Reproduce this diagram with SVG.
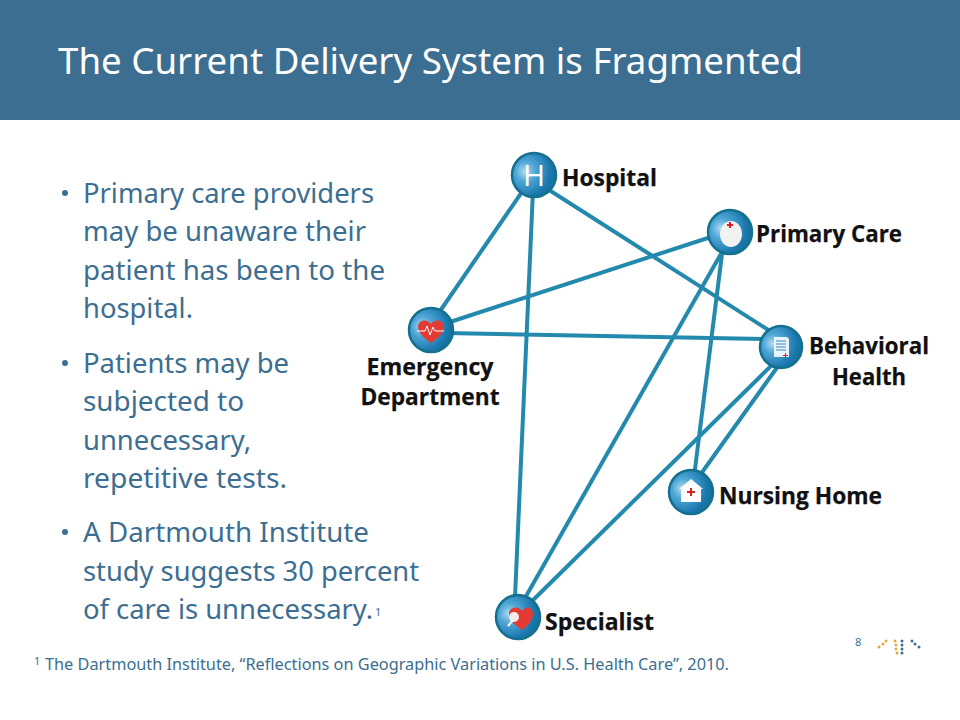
<svg xmlns="http://www.w3.org/2000/svg" width="960" height="720" viewBox="0 0 960 720">
<style>
.t{font-family:"Noto Sans","Open Sans",sans-serif;fill:#3c6e91}
.b{font-size:26.5px}
.l{font-family:"Open Sans","Noto Sans",sans-serif;font-weight:700;font-size:23px;fill:#111;stroke:#111;stroke-width:.25}
.c line{stroke:#2389ad;stroke-width:4;fill:none}
.n{stroke:#14708f;stroke-width:2.5}
</style>
<defs>
<radialGradient id="g" cx=".3" cy=".42" r=".75"><stop offset="0" stop-color="#b4dcef"/><stop offset=".3" stop-color="#4fa7d6"/><stop offset=".75" stop-color="#1b78ae"/><stop offset="1" stop-color="#0f6f93"/></radialGradient>
</defs>
<rect width="960" height="120" fill="#3c6e91"/>
<text x="58" y="74" font-family="'Noto Sans','Open Sans',sans-serif" font-size="36.5" fill="#fff" textLength="745" lengthAdjust="spacingAndGlyphs">The Current Delivery System is Fragmented</text>
<g id="bullets">
<g fill="#3c6e91"><circle cx="65" cy="193" r="3"/><circle cx="65" cy="363" r="3"/><circle cx="65" cy="532" r="3"/></g>
<text class="t b" x="83" y="203" textLength="291" lengthAdjust="spacingAndGlyphs">Primary care providers</text>
<text class="t b" x="83" y="241" textLength="283" lengthAdjust="spacingAndGlyphs">may be unaware their</text>
<text class="t b" x="83" y="280" textLength="302" lengthAdjust="spacingAndGlyphs">patient has been to the</text>
<text class="t b" x="83" y="318" textLength="110" lengthAdjust="spacingAndGlyphs">hospital.</text>
<text class="t b" x="83" y="373" textLength="206" lengthAdjust="spacingAndGlyphs">Patients may be</text>
<text class="t b" x="83" y="411" textLength="161" lengthAdjust="spacingAndGlyphs">subjected to</text>
<text class="t b" x="83" y="450" textLength="168" lengthAdjust="spacingAndGlyphs">unnecessary,</text>
<text class="t b" x="83" y="488" textLength="204" lengthAdjust="spacingAndGlyphs">repetitive tests.</text>
<text class="t b" x="83" y="542" textLength="286" lengthAdjust="spacingAndGlyphs">A Dartmouth Institute</text>
<text class="t b" x="83" y="581" textLength="336" lengthAdjust="spacingAndGlyphs">study suggests 30 percent</text>
<text class="t b" x="83" y="619" textLength="290" lengthAdjust="spacingAndGlyphs">of care is unnecessary.</text>
<text class="t" x="375" y="616" font-size="11">1</text>
</g>
<g id="footnote">
<text class="t" x="34" y="665" font-size="11">1</text>
<text class="t" x="45" y="670" font-size="15.5" textLength="684" lengthAdjust="spacingAndGlyphs">The Dartmouth Institute, “Reflections on Geographic Variations in U.S. Health Care”, 2010.</text>
</g>
<g id="connectors" class="c">
<line x1="524" y1="189" x2="438" y2="314"/>
<line x1="533" y1="190" x2="514.7" y2="604"/>
<line x1="546" y1="188" x2="773" y2="333"/>
<line x1="714" y1="236" x2="447" y2="323"/>
<line x1="726" y1="245" x2="521" y2="605"/>
<line x1="723" y1="246" x2="694" y2="477"/>
<line x1="446" y1="333" x2="768" y2="339"/>
<line x1="781" y1="362" x2="698" y2="478"/>
<line x1="775" y1="362" x2="528" y2="605"/>
</g>
<g id="hospital">
<circle class="n" cx="534" cy="175" r="22" fill="url(#g)"/>
<text x="534" y="186" text-anchor="middle" font-family="'Open Sans',sans-serif" font-size="30" fill="#fff">H</text>
<text class="l" x="562" y="186" textLength="95" lengthAdjust="spacingAndGlyphs">Hospital</text>
</g>
<g id="primary-care">
<circle class="n" cx="730" cy="232" r="22" fill="url(#g)"/>
<ellipse cx="731" cy="234" rx="11" ry="13" fill="#f2f2f0"/>
<path d="M727 224h2v-2h2v2h2v2h-2v2h-2v-2h-2z" fill="#d81e2c"/>
<text class="l" x="756" y="242" textLength="146" lengthAdjust="spacingAndGlyphs">Primary Care</text>
</g>
<g id="emergency">
<circle class="n" cx="431" cy="330" r="22" fill="url(#g)"/>
<path d="M431 343c-5-4-13-9-13-16 0-7 9-9 13-3 4-6 13-4 13 3 0 7-8 12-13 16z" fill="#e33b33"/>
<path d="M417 331h8l2-5 3 9 3-8 2 4h9" fill="none" stroke="#fff" stroke-width="1"/>
<text class="l" x="430" y="375" text-anchor="middle" textLength="127" lengthAdjust="spacingAndGlyphs">Emergency</text>
<text class="l" x="430" y="405" text-anchor="middle" textLength="139" lengthAdjust="spacingAndGlyphs">Department</text>
</g>
<g id="behavioral">
<circle class="n" cx="781" cy="347" r="21" fill="url(#g)"/>
<path d="M774 337h13l2 2v18h-15z" fill="#e9f3fa"/>
<path d="M776 341h10M776 344h10M776 347h10M776 350h10" stroke="#3a8cc0" stroke-width="1.2"/>
<path d="M783 355h2v-2h1v2h2v1h-2v2h-1v-2h-2z" fill="#d81e2c"/>
<text class="l" x="869" y="354" text-anchor="middle" textLength="120" lengthAdjust="spacingAndGlyphs">Behavioral</text>
<text class="l" x="869" y="385" text-anchor="middle" textLength="74" lengthAdjust="spacingAndGlyphs">Health</text>
</g>
<g id="nursing">
<circle class="n" cx="691" cy="492" r="22" fill="url(#g)"/>
<path d="M691 479l12 10h-2v13h-20v-13h-2z" fill="#fff"/>
<path d="M687 491h3v-3h2v3h3v2h-3v3h-2v-3h-3z" fill="#d81e2c"/>
<text class="l" x="719" y="504" textLength="163" lengthAdjust="spacingAndGlyphs">Nursing Home</text>
</g>
<g id="specialist">
<circle class="n" cx="518" cy="617" r="22" fill="url(#g)"/>
<path d="M522 630c-5-4-13-9-13-16 0-7 9-9 13-3 4-6 11-4 11 3 0 7-6 12-11 16z" fill="#e33b33"/>
<circle cx="514" cy="617" r="5" fill="#f3ece6"/>
<path d="M508 626l5-6" stroke="#fff" stroke-width="2"/>
<text class="l" x="545" y="630" textLength="109" lengthAdjust="spacingAndGlyphs">Specialist</text>
</g>
<g id="footer">
<text class="t" x="855" y="646" font-size="11">8</text>
<g fill="#e0aa3e"><circle cx="879" cy="647" r="1.5"/><circle cx="883" cy="644" r="1.5"/><circle cx="886" cy="641" r="1.5"/><circle cx="895" cy="641" r="1.5"/><circle cx="896" cy="645" r="1.5"/><circle cx="896" cy="649" r="1.5"/><circle cx="897" cy="653" r="1.5"/></g>
<g fill="#3c6e91"><circle cx="902" cy="641" r="1.5"/><circle cx="902" cy="645" r="1.5"/><circle cx="902" cy="649" r="1.5"/><circle cx="902" cy="653" r="1.5"/><circle cx="912" cy="641" r="1.5"/><circle cx="915" cy="644" r="1.5"/><circle cx="919" cy="647" r="1.5"/></g>
</g>
</svg>
